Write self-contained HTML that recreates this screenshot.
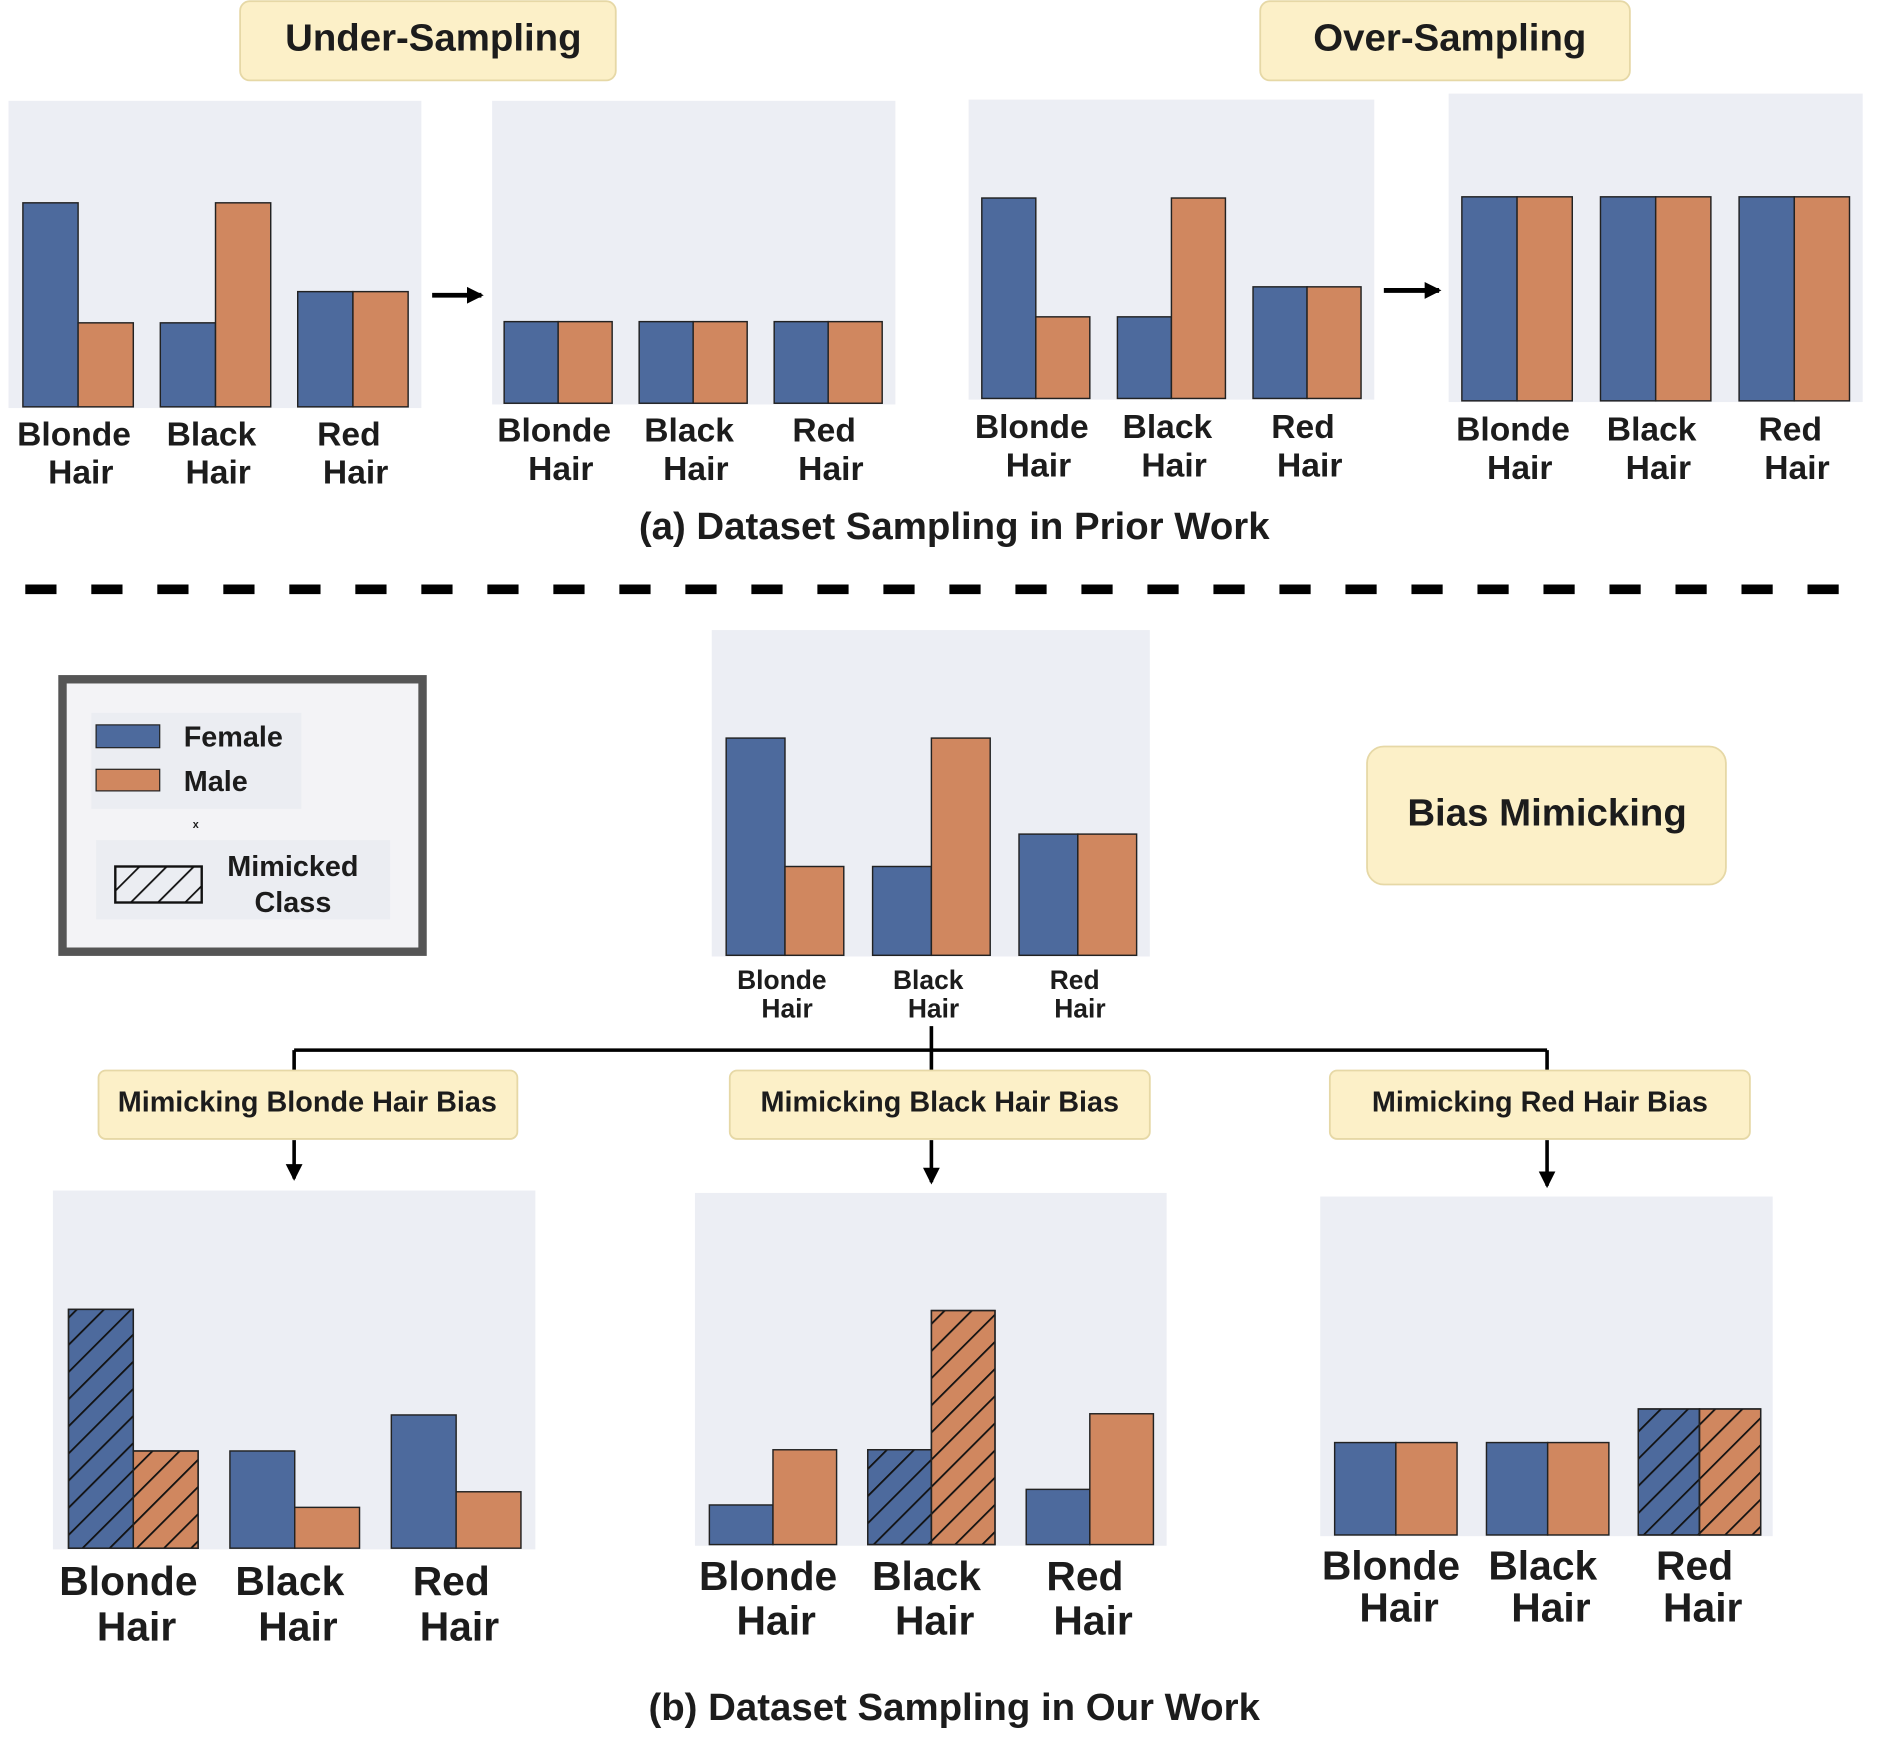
<!DOCTYPE html>
<html><head><meta charset="utf-8"><style>
html,body{margin:0;padding:0;background:#fff}
svg{display:block}
text{font-family:"Liberation Sans",sans-serif;font-weight:bold;fill:#1c1c1c}
</style></head><body>
<svg id="fig" width="1882" height="1751" viewBox="0 0 1568 1459" xmlns="http://www.w3.org/2000/svg">
<defs>
<pattern id="hatch" patternUnits="userSpaceOnUse" width="16" height="16" patternTransform="rotate(45)">
<line x1="0" y1="0" x2="0" y2="16" stroke="#111" stroke-width="3"/>
</pattern>
<marker id="ah" markerUnits="userSpaceOnUse" markerWidth="16" markerHeight="16" refX="12" refY="8" orient="auto"><path d="M0,1 L14,8 L0,15 z" fill="#000"/></marker>
</defs>
<g id="top-titles">
<rect x="200" y="1" width="313" height="66" rx="8" fill="#fcf0c8" stroke="#e6d8a6" stroke-width="1.5"/>
<text x="361" y="42" font-size="32" text-anchor="middle">Under-Sampling</text>
<rect x="1050" y="1" width="308" height="66" rx="8" fill="#fcf0c8" stroke="#e6d8a6" stroke-width="1.5"/>
<text x="1208" y="42" font-size="32" text-anchor="middle">Over-Sampling</text>
<text x="795" y="449" font-size="32" text-anchor="middle">(a) Dataset Sampling in Prior Work</text>
<line x1="21" y1="491" x2="1533" y2="491" stroke="#000" stroke-width="8" stroke-dasharray="26 29"/>
<line x1="360" y1="246" x2="401" y2="246" stroke="#000" stroke-width="4" marker-end="url(#ah)"/>
<line x1="1153" y1="242" x2="1199" y2="242" stroke="#000" stroke-width="4" marker-end="url(#ah)"/>
</g>
<g>
<rect x="52" y="566" width="300" height="227" fill="#f3f3f6" stroke="#555" stroke-width="7"/>
<rect x="76" y="594" width="175" height="80" fill="#ebedf2"/>
<rect x="80" y="604" width="53" height="19" fill="#4d6a9d" stroke="#222" stroke-width="1"/>
<text x="153" y="622" font-size="24">Female</text>
<rect x="80" y="641" width="53" height="18" fill="#d0875f" stroke="#222" stroke-width="1"/>
<text x="153" y="659" font-size="24">Male</text>
<text x="163" y="690" font-size="9" text-anchor="middle">x</text>
<rect x="80" y="700" width="245" height="66" fill="#ebedf2"/>
<rect x="96" y="722" width="72" height="30" fill="url(#hatch)" stroke="#111" stroke-width="2"/>
<text x="244" y="730" font-size="24" text-anchor="middle">Mimicked</text>
<text x="244" y="760" font-size="24" text-anchor="middle">Class</text>
</g>
<rect x="1139" y="622" width="299" height="115" rx="14" fill="#fcf0c8" stroke="#e6d8a6" stroke-width="1.5"/>
<text x="1289" y="688" font-size="32" text-anchor="middle">Bias Mimicking</text>
<g id="tree" stroke="#000" stroke-width="3" fill="none">
<line x1="776" y1="855" x2="776" y2="892"/>
<line x1="245" y1="875" x2="1289" y2="875"/>
<line x1="245" y1="875" x2="245" y2="892"/>
<line x1="1289" y1="875" x2="1289" y2="892"/>
<line x1="245" y1="950" x2="245" y2="982" marker-end="url(#ah)"/>
<line x1="776" y1="950" x2="776" y2="985" marker-end="url(#ah)"/>
<line x1="1289" y1="950" x2="1289" y2="988" marker-end="url(#ah)"/>
</g>
<rect x="82" y="892" width="349" height="57" rx="6" fill="#fcf0c8" stroke="#e6d8a6" stroke-width="1.5"/>
<text x="256" y="926" font-size="24" text-anchor="middle">Mimicking Blonde Hair Bias</text>
<rect x="608" y="892" width="350" height="57" rx="6" fill="#fcf0c8" stroke="#e6d8a6" stroke-width="1.5"/>
<text x="783" y="926" font-size="24" text-anchor="middle">Mimicking Black Hair Bias</text>
<rect x="1108" y="892" width="350" height="57" rx="6" fill="#fcf0c8" stroke="#e6d8a6" stroke-width="1.5"/>
<text x="1283" y="926" font-size="24" text-anchor="middle">Mimicking Red Hair Bias</text>
<text x="795" y="1433" font-size="32" text-anchor="middle">(b) Dataset Sampling in Our Work</text>
<g id="panels"></g>
</svg>
<script>
// data: bar heights (arbitrary units), categories
const categories = ["Blonde", "Black", "Red"];
const p1Female = [170, 70, 96];
const p1Male = [70, 170, 96];
const p2Female = [68, 68, 68];
const p2Male = [68, 68, 68];
const p3Female = [167, 68, 93];
const p3Male = [68, 167, 93];
const p4Female = [170, 170, 170];
const p4Male = [170, 170, 170];
const centerFemale = [181, 74, 101];
const centerMale = [74, 181, 101];
const b1Female = [199, 81, 111];
const b1Male = [81, 34, 47];
const b2Female = [33, 79, 46];
const b2Male = [79, 195, 109];
const b3Female = [77, 77, 105];
const b3Male = [77, 77, 105];
const b1Hatch = [true, false, false];
const b2Hatch = [false, true, false];
const b3Hatch = [false, false, true];

const NS = "http://www.w3.org/2000/svg";
const root = document.getElementById('panels');
function mk(tag, attrs, parent){const e=document.createElementNS(NS,tag);for(const k in attrs)e.setAttribute(k,attrs[k]);parent.appendChild(e);return e;}

function panel(name, cfg, fem, mal, hatch){
  const g = mk('g', {}, root);
  
  
  const bg = mk('rect', {x:cfg.x, y:cfg.y, width:cfg.w, height:cfg.h, fill:'#eceef4'}, g);
  
  
  const yScale = v => cfg.base - v * cfg.k;
  categories.forEach((c, i) => {
    const gx = cfg.g0 + i * cfg.gs;
    [[fem[i], '#4d6a9d', 0, 'female'], [mal[i], '#d0875f', 1, 'male']].forEach(([v, col, j, s]) => {
      const top = yScale(v);
      const r = mk('rect', {x:gx + j*cfg.bw, y:top, width:cfg.bw, height:cfg.base-top, fill:col, stroke:'#222', 'stroke-width':1.2}, g);
      
      
      if (hatch && hatch[i]) mk('rect', {x:gx + j*cfg.bw, y:top, width:cfg.bw, height:cfg.base-top, fill:'url(#hatch)', stroke:'#222', 'stroke-width':1.2}, g);
    });
    const cx = gx + cfg.bw;
    const t1 = mk('text', {x:cx - cfg.fs*0.12, y:cfg.ly, 'font-size':cfg.fs, 'text-anchor':'middle'}, g);
    t1.textContent = c;
    
    
    const t2 = mk('text', {x:cx + cfg.fs*0.08, y:cfg.ly + cfg.lh, 'font-size':cfg.fs, 'text-anchor':'middle'}, g);
    t2.textContent = 'Hair';
    
    
  });
}
panel('panel-original-under', {x:7,y:84,w:344,h:256,base:339,k:1,g0:19,gs:114.5,bw:46,ly:371,lh:32,fs:28}, p1Female, p1Male);
panel('panel-under-sampled', {x:410,y:84,w:336,h:253,base:336,k:1,g0:420,gs:112.5,bw:45,ly:368,lh:32,fs:28}, p2Female, p2Male);
panel('panel-original-over', {x:807,y:83,w:338,h:250,base:332,k:1,g0:818,gs:113,bw:45,ly:365,lh:32,fs:28}, p3Female, p3Male);
panel('panel-over-sampled', {x:1207,y:78,w:345,h:257,base:334,k:1,g0:1218,gs:115.5,bw:46,ly:367,lh:32,fs:28}, p4Female, p4Male);
panel('panel-center-original', {x:593,y:525,w:365,h:272,base:796,k:1,g0:605,gs:122,bw:49,ly:824,lh:24,fs:22}, centerFemale, centerMale, null);
panel('panel-mimic-blonde', {x:44,y:992,w:402,h:299,base:1290,k:1,g0:57,gs:134.5,bw:54,ly:1329,lh:38,fs:34}, b1Female, b1Male, b1Hatch);
panel('panel-mimic-black', {x:579,y:994,w:393,h:294,base:1287,k:1,g0:591,gs:132,bw:53,ly:1325,lh:37,fs:34}, b2Female, b2Male, b2Hatch);
panel('panel-mimic-red', {x:1100,y:997,w:377,h:283,base:1279,k:1,g0:1112,gs:126.5,bw:51,ly:1316,lh:35,fs:34}, b3Female, b3Male, b3Hatch);
</script>
</body></html>
